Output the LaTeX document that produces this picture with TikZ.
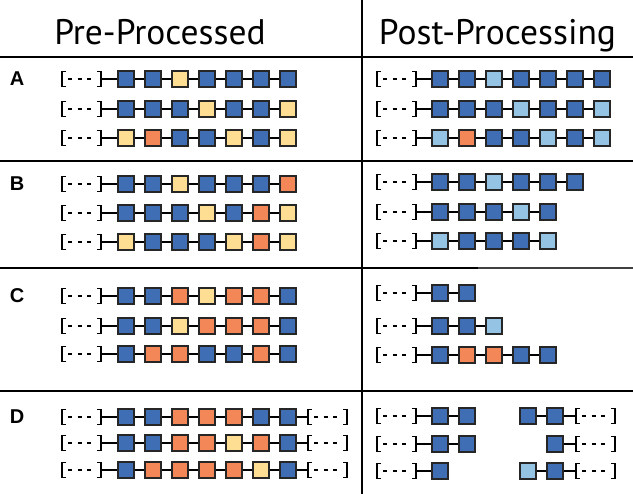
\documentclass[tikz,border=0pt]{standalone}
\usepackage{fontspec}
\setmainfont{PT Sans}
\newfontfamily\tagfont{Liberation Sans}

\definecolor{monoblue}{RGB}{64,110,180}
\definecolor{monoyellow}{RGB}{253,222,146}
\definecolor{monoorange}{RGB}{243,135,88}
\definecolor{monolight}{RGB}{148,195,228}

\tikzset{
  rule/.style={line width=2pt},
  link/.style={line width=1.3pt},
  mono/.style={draw=black!85, line width=1.3pt, minimum size=16pt, inner sep=0pt},
  sqb/.style={mono, fill=monoblue},
  sqy/.style={mono, fill=monoyellow},
  sqo/.style={mono, fill=monoorange},
  sql/.style={mono, fill=monolight},
  head/.style={anchor=base, font=\fontsize{35.5}{40}\selectfont},
  tag/.style={font=\tagfont\bfseries\fontsize{20}{22}\selectfont},
  seg/.pic={
    \draw[link] (4,-7.5) -- (0,-7.5) -- (0,7.5) -- (4,7.5);
    \draw[link] (35,-7.5) -- (39,-7.5) -- (39,7.5) -- (35,7.5);
    \draw[link, dash pattern=on 4pt off 5.5pt] (6,0) -- (30,0);
    \coordinate (-w) at (0,0);
    \coordinate (-e) at (39,0);
  }
}

\begin{document}
\begin{tikzpicture}[x=1pt,y=-1pt]
  \useasboundingbox (0,0) rectangle (633,494);

  % frame
  \draw[rule] (0,57) -- (633,57);
  \draw[rule] (362,0) -- (362,494);
  \draw[rule] (0,161) -- (633,161);
  \draw[rule] (0,268) -- (478,268);
  \draw[line width=1.2pt, black!75] (478,268) -- (633,268);
  \draw[rule] (0,391) -- (633,391);

  \node[head] (pre) at (160,44.5) {Pre-Processed};
  \node[head] (post) at (497.5,44.5) {Post-Processing};

  \node[tag] (la) at (17,79) {A};
  \node[tag] (lb) at (17,184) {B};
  \node[tag] (lc) at (17,296) {C};
  \node[tag] (ld) at (17,417) {D};

  % pre-processed chains
  \foreach \r/\y/\seq in {
      a1/79/{sqb,sqb,sqy,sqb,sqb,sqb,sqb},
      a2/109/{sqb,sqb,sqb,sqy,sqb,sqb,sqy},
      a3/138/{sqy,sqo,sqb,sqb,sqy,sqb,sqy},
      b1/184/{sqb,sqb,sqy,sqb,sqb,sqb,sqo},
      b2/213/{sqb,sqb,sqb,sqy,sqb,sqo,sqy},
      b3/242/{sqy,sqb,sqb,sqb,sqy,sqo,sqy},
      c1/296/{sqb,sqb,sqo,sqy,sqo,sqo,sqb},
      c2/326/{sqb,sqb,sqy,sqo,sqo,sqo,sqb},
      c3/354/{sqb,sqo,sqo,sqb,sqb,sqo,sqb},
      d1/417/{sqb,sqb,sqo,sqo,sqo,sqb,sqb},
      d2/443/{sqb,sqb,sqo,sqo,sqy,sqo,sqb},
      d3/470/{sqb,sqo,sqo,sqo,sqo,sqy,sqb}} {
    \pic (\r) at (62,\y) {seg};
    \foreach \c [count=\i, remember=\i as \j (initially e)] in \seq {
      \node[\c] (\r-\i) at ({99+27*\i},\y) {};
      \draw[link] (\r-\j) -- (\r-\i);
    }
  }

  % open ends on the right of D
  \foreach \r/\y in {d1/417, d2/443, d3/470} {
    \pic (\r t) at (308,\y) {seg};
    \draw[link] (\r-7) -- (\r t-w);
  }

  % post-processing chains
  \foreach \r/\y/\seq in {
      ra1/79/{sqb,sqb,sql,sqb,sqb,sqb,sqb},
      ra2/109/{sqb,sqb,sqb,sql,sqb,sqb,sql},
      ra3/138/{sql,sqo,sqb,sqb,sql,sqb,sql},
      rb1/182/{sqb,sqb,sql,sqb,sqb,sqb},
      rb2/212/{sqb,sqb,sqb,sql,sqb},
      rb3/241/{sql,sqb,sqb,sqb,sql},
      rc1/293/{sqb,sqb},
      rc2/326/{sqb,sqb,sql},
      rc3/355/{sqb,sqo,sqo,sqb,sqb},
      rd1/416/{sqb,sqb},
      rd2/444/{sqb,sqb},
      rd3/471/{sqb}} {
    \pic (\r) at (377,\y) {seg};
    \foreach \c [count=\i, remember=\i as \j (initially e)] in \seq {
      \node[\c] (\r-\i) at ({413+27*\i},\y) {};
      \draw[link] (\r-\j) -- (\r-\i);
    }
  }

  % cut-off tails
  \node[sqb] (sd1-1) at (528,416) {};
  \node[sqb] (sd1-2) at (555,416) {};
  \pic (sd1t) at (576,416) {seg};
  \draw[link] (sd1-1) -- (sd1-2);
  \draw[link] (sd1-2) -- (sd1t-w);

  \node[sqb] (sd2-1) at (555,444) {};
  \pic (sd2t) at (576,444) {seg};
  \draw[link] (sd2-1) -- (sd2t-w);

  \node[sql] (sd3-1) at (528,471) {};
  \node[sqb] (sd3-2) at (555,471) {};
  \pic (sd3t) at (576,471) {seg};
  \draw[link] (sd3-1) -- (sd3-2);
  \draw[link] (sd3-2) -- (sd3t-w);
\end{tikzpicture}
\end{document}
